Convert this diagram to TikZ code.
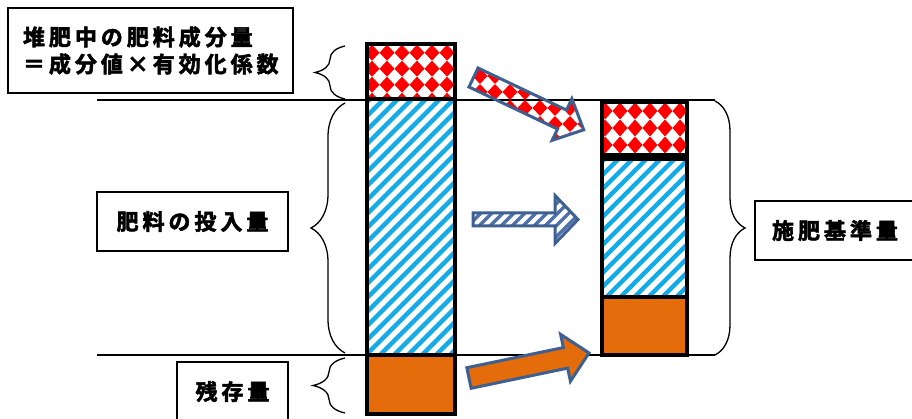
\documentclass[tikz,border=0pt]{standalone}
\usepackage{fontspec}
\newfontfamily\jp[LetterSpace=18,FakeBold=2.5]{Noto Sans CJK JP Bold}
\usetikzlibrary{decorations.pathreplacing}
\definecolor{cred}{RGB}{255,0,0}
\definecolor{cblue}{RGB}{20,172,232}
\definecolor{corange}{RGB}{228,108,10}
\definecolor{arrblue}{RGB}{62,96,144}
\definecolor{mblue}{RGB}{80,112,172}
\newcommand\diamondfill[4]{% x0,y0,dx,dy
  \foreach \i in {-1,...,10}{\foreach \j in {-1,...,6}{%
    \fill[cred] ({#1+#3*\i},{#2+#4*\j}) +({-#3/2},0) -- +(0,{-#4/2}) -- +({#3/2},0) -- +(0,{#4/2}) -- cycle;}}}
\newcommand\stripefill[6]{% xmin,ymin,xmax,ymax,period,style
  \pgfmathsetmacro\sfH{#4-#2}%
  \pgfmathtruncatemacro\sfN{(#3-#1+\sfH)/#5+1}%
  \foreach \k in {0,...,\sfN}{\draw[#6] ({#1-\sfH+\k*#5},#4) -- ++(\sfH,-\sfH);}}
\newcommand\blockarrow[8]{% x,y,angle,L,headlen,shafthalf,headhalf,fillcode
  \begin{scope}[shift={(#1,#2)}, rotate=#3]
  \draw[arr, path picture={\begin{scope}[reset cm]#8\end{scope}}]
    (0,-#6) -- ({#4-#5},-#6) -- ({#4-#5},-#7) -- (#4,0) -- ({#4-#5},#7) -- ({#4-#5},#6) -- (0,#6) -- cycle;
  \end{scope}}
\begin{document}
\begin{tikzpicture}[x=1pt,y=-1pt,
  colbox/.style={draw=black, line width=4.5pt, inner sep=0pt},
  labelbox/.style={draw=black, line width=1.3pt, font=\jp\fontsize{22}{27}\selectfont, inner sep=0pt},
  guide/.style={line width=1.5pt},
  bracedeco/.style={decorate, decoration={brace, amplitude=#1}, line width=1.3pt},
  arr/.style={draw=arrblue, line width=3pt, line join=miter},
  cstripe/.style={cblue, line width=4.5pt},
  mstripe/.style={mblue, line width=3.5pt},
]
\useasboundingbox (0,0) rectangle (912,419);
\clip (0,0) rectangle (912,419);

% guide lines
\coordinate (g1a) at (97,100); \coordinate (g1b) at (715,100);
\coordinate (g2a) at (97,355); \coordinate (g2b) at (715,355);
\draw[guide] (g1a) -- (g1b);
\draw[guide] (g2a) -- (g2b);

% left column (pattern coordinates relative to node centre)
\node[colbox, minimum width=88, minimum height=55,
  path picture={\diamondfill{-39}{-18.8}{15}{16}}] (lred) at (411,71.5) {};
\node[colbox, minimum width=88, minimum height=256,
  path picture={\stripefill{-51}{-132}{49}{133}{14}{cstripe}}] (lblue) at (411,227) {};
\node[colbox, fill=corange, minimum width=88, minimum height=59] (lor) at (411,384.5) {};

% right column
\node[colbox, minimum width=85, minimum height=53,
  path picture={\diamondfill{-39.5}{-17.5}{15}{17}}] (rred) at (644.5,128.5) {};
\node[colbox, minimum width=85, minimum height=138,
  path picture={\stripefill{-50}{-73}{51}{72}{14}{cstripe}}] (rblue) at (644.5,228) {};
\node[colbox, fill=corange, minimum width=85, minimum height=58] (ror) at (644.5,326) {};

% braces
\coordinate (b1s) at (345,99);  \coordinate (b1e) at (345,46);
\coordinate (b2s) at (345,353); \coordinate (b2e) at (345,103);
\coordinate (b3s) at (345,413); \coordinate (b3e) at (345,358);
\coordinate (b4s) at (715,101); \coordinate (b4e) at (715,355);
\draw[bracedeco=30] (b1s) -- (b1e);
\draw[bracedeco=34] (b2s) -- (b2e);
\draw[bracedeco=32] (b3s) -- (b3e);
\draw[bracedeco=30] (b4s) -- (b4e);

% block arrows
\blockarrow{473.5}{77.5}{-25.4}{122}{24}{10.5}{23}{\diamondfill{450}{60}{15}{16}}
\blockarrow{473}{219.5}{0}{105}{23}{6.5}{24}{\stripefill{460}{190}{590}{250}{11}{mstripe}}
\blockarrow{469}{378}{11.8}{122.6}{24}{10.5}{24}{\fill[corange] (0,0) rectangle (912,419);}

% labels
\node[labelbox, minimum width=285, minimum height=85, text width=255pt, inner xsep=15pt, align=left]
  (t1) at (150.5,50.5) {堆肥中の肥料成分量\\＝成分値×有効化係数};
\node[labelbox, minimum width=191, minimum height=59] (t2) at (192.5,221.5) {肥料の投入量};
\node[labelbox, minimum width=111, minimum height=59] (t3) at (232.5,391.5) {残存量};
\node[labelbox, minimum width=160, minimum height=59] (t4) at (835,230.5) {施肥基準量};
\end{tikzpicture}
\end{document}
